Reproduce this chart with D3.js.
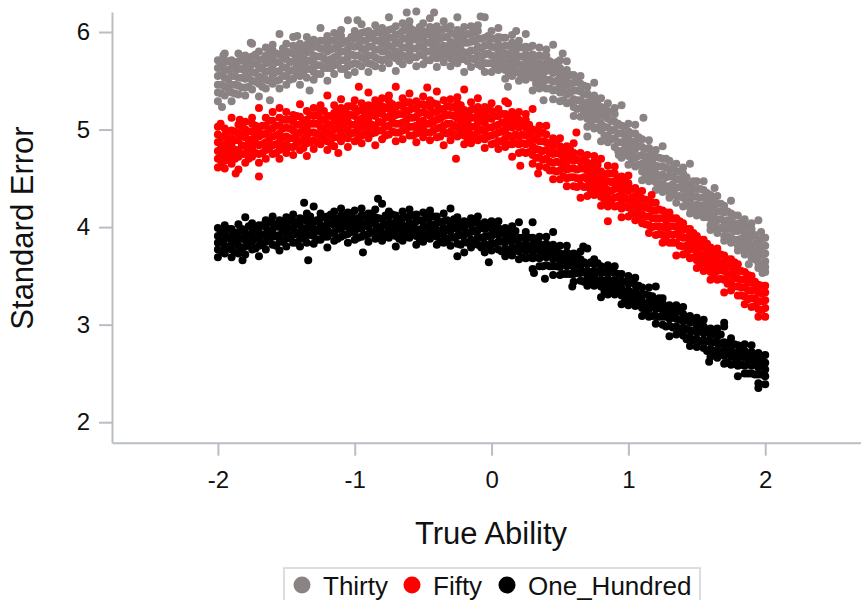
<!DOCTYPE html>
<html>
<head>
<meta charset="utf-8">
<script src="https://cdn.jsdelivr.net/npm/d3@7/dist/d3.min.js"></script>
<style>
  html, body { margin: 0; padding: 0; background: #fff; }
  svg { display: block; font-family: "Liberation Sans", Arial, sans-serif; }
</style>
</head>
<body>
<svg id="chart" width="861" height="600"></svg>
<script>
// Standard error by true ability for three test lengths.
// Each row: [true ability, standard error, standard error, ...]
const thirty = [
[-2.00,5.29,5.38,5.46,5.55,5.63,5.71],[-1.95,5.35,5.44,5.53,5.61,5.69,5.78],[-1.90,5.29,5.38,5.46,5.55,5.63,5.71],
[-1.85,5.36,5.45,5.53,5.62,5.70,5.78],[-1.80,5.35,5.43,5.52,5.60,5.69,5.76],[-1.75,5.41,5.50,5.59,5.67,5.75,5.88],
[-1.70,5.34,5.47,5.54,5.64,5.71,5.80],[-1.65,5.42,5.51,5.59,5.68,5.76,5.84],[-1.60,5.47,5.56,5.65,5.73,5.81,5.87],
[-1.55,5.42,5.51,5.60,5.69,5.77,5.98],[-1.50,5.46,5.55,5.63,5.72,5.80,5.88],[-1.45,5.52,5.61,5.70,5.78,5.86,5.95],
[-1.40,5.46,5.55,5.63,5.72,5.80,5.88],[-1.35,5.53,5.62,5.70,5.79,5.87,5.95],[-1.30,5.51,5.59,5.68,5.76,5.85,5.92],
[-1.25,5.57,5.66,5.75,5.83,5.91,6.04],[-1.20,5.50,5.63,5.70,5.80,5.87,5.96],[-1.15,5.57,5.66,5.74,5.83,5.91,5.99],
[-1.10,5.62,5.71,5.80,5.88,5.96,6.02],[-1.05,5.56,5.65,5.74,5.83,5.91,6.12],[-1.00,5.59,5.68,5.76,5.85,5.93,6.01],
[-0.95,5.65,5.74,5.83,5.91,5.99,6.08],[-0.90,5.59,5.68,5.76,5.85,5.93,6.01],[-0.85,5.65,5.74,5.82,5.91,5.99,6.07],
[-0.80,5.63,5.71,5.80,5.88,5.97,6.04],[-0.75,5.68,5.77,5.86,5.94,6.02,6.15],[-0.70,5.60,5.73,5.80,5.90,5.97,6.06],
[-0.65,5.67,5.76,5.84,5.93,6.01,6.09],[-0.60,5.71,5.80,5.89,5.97,6.05,6.11],[-0.55,5.65,5.74,5.83,5.92,6.00,6.21],
[-0.50,5.67,5.76,5.84,5.93,6.01,6.09],[-0.45,5.71,5.80,5.89,5.97,6.05,6.14],[-0.40,5.64,5.73,5.81,5.90,5.98,6.06],
[-0.35,5.69,5.78,5.86,5.95,6.03,6.11],[-0.30,5.65,5.73,5.82,5.90,5.99,6.06],[-0.25,5.68,5.77,5.86,5.94,6.02,6.15],
[-0.20,5.59,5.72,5.79,5.89,5.96,6.05],[-0.15,5.64,5.73,5.81,5.90,5.98,6.06],[-0.10,5.67,5.76,5.85,5.93,6.01,6.07],
[-0.05,5.59,5.68,5.77,5.86,5.94,6.15],[0.00,5.59,5.68,5.76,5.85,5.93,6.01],[0.05,5.61,5.70,5.79,5.87,5.95,6.04],
[0.10,5.52,5.61,5.69,5.78,5.86,5.94],[0.15,5.55,5.64,5.72,5.81,5.89,5.97],[0.20,5.50,5.58,5.67,5.75,5.84,5.91],
[0.25,5.51,5.60,5.69,5.77,5.85,5.98],[0.30,5.40,5.53,5.60,5.70,5.77,5.86],[0.35,5.42,5.51,5.59,5.68,5.76,5.84],
[0.40,5.42,5.51,5.60,5.68,5.76,5.82],[0.45,5.31,5.40,5.49,5.58,5.66,5.87],[0.50,5.29,5.38,5.46,5.55,5.63,5.71],
[0.55,5.27,5.36,5.45,5.53,5.61,5.70],[0.60,5.14,5.23,5.31,5.40,5.48,5.56],[0.65,5.13,5.22,5.30,5.39,5.47,5.55],
[0.70,5.03,5.11,5.20,5.28,5.37,5.44],[0.75,5.01,5.10,5.19,5.27,5.35,5.48],[0.80,4.88,4.99,5.06,5.16,5.23,5.32],
[0.85,4.87,4.94,5.02,5.11,5.19,5.27],[0.90,4.82,4.91,5.00,5.08,5.16,5.22],[0.95,4.71,4.78,4.87,4.96,5.04,5.25],
[1.00,4.64,4.73,4.81,4.90,4.98,5.06],[1.05,4.62,4.71,4.80,4.88,4.96,5.05],[1.10,4.48,4.57,4.65,4.74,4.82,4.90],
[1.15,4.47,4.56,4.64,4.73,4.81,4.89],[1.20,4.38,4.46,4.55,4.63,4.72,4.79],[1.25,4.36,4.45,4.54,4.62,4.70,4.83],
[1.30,4.30,4.36,4.42,4.52,4.59,4.68],[1.35,4.25,4.32,4.40,4.49,4.57,4.65],[1.40,4.21,4.30,4.39,4.47,4.55,4.61],
[1.45,4.14,4.20,4.27,4.36,4.44,4.65],[1.50,4.12,4.17,4.23,4.31,4.39,4.47],[1.55,4.10,4.15,4.22,4.30,4.38,4.47],
[1.60,3.97,4.02,4.09,4.17,4.25,4.33],[1.65,3.94,3.99,4.07,4.16,4.24,4.32],[1.70,3.86,3.91,3.98,4.06,4.15,4.22],
[1.75,3.84,3.89,3.98,4.06,4.14,4.27],[1.80,3.76,3.81,3.87,3.96,4.03,4.12],[1.85,3.72,3.77,3.83,3.92,4.00,4.08],
[1.90,3.68,3.74,3.82,3.90,3.98,4.04],[1.95,3.58,3.63,3.70,3.78,3.86,4.07],[2.00,3.54,3.59,3.65,3.73,3.81,3.89],
[-1.975,5.37,5.46,5.56,5.65],[-1.925,5.42,5.51,5.61,5.70],[-1.875,5.37,5.46,5.55,5.65],[-1.825,5.43,5.53,5.62,5.71],
[-1.775,5.44,5.53,5.63,5.72],[-1.725,5.49,5.58,5.68,5.77],[-1.675,5.44,5.53,5.62,5.72],[-1.625,5.50,5.60,5.69,5.78],
[-1.575,5.50,5.59,5.69,5.78],[-1.525,5.55,5.64,5.74,5.83],[-1.475,5.51,5.60,5.69,5.79],[-1.425,5.57,5.67,5.76,5.85],
[-1.375,5.57,5.66,5.76,5.85],[-1.325,5.62,5.71,5.81,5.90],[-1.275,5.57,5.66,5.75,5.85],[-1.225,5.63,5.73,5.82,5.91],
[-1.175,5.63,5.72,5.82,5.91],[-1.125,5.67,5.76,5.86,5.95],[-1.075,5.62,5.71,5.80,5.90],[-1.025,5.67,5.77,5.86,5.95],
[-0.975,5.67,5.76,5.86,5.95],[-0.925,5.72,5.81,5.91,6.00],[-0.875,5.67,5.76,5.85,5.95],[-0.825,5.72,5.82,5.91,6.00],
[-0.775,5.72,5.81,5.91,6.00],[-0.725,5.75,5.84,5.94,6.03],[-0.675,5.70,5.79,5.88,5.98],[-0.625,5.74,5.84,5.93,6.02],
[-0.575,5.74,5.83,5.93,6.02],[-0.525,5.77,5.86,5.96,6.05],[-0.475,5.71,5.80,5.89,5.99],[-0.425,5.75,5.85,5.94,6.03],
[-0.375,5.74,5.83,5.93,6.02],[-0.325,5.76,5.85,5.95,6.04],[-0.275,5.70,5.79,5.88,5.98],[-0.225,5.72,5.82,5.91,6.00],
[-0.175,5.70,5.79,5.89,5.98],[-0.125,5.72,5.81,5.91,6.00],[-0.075,5.65,5.74,5.83,5.93],[-0.025,5.68,5.78,5.87,5.96],
[0.025,5.65,5.74,5.84,5.93],[0.075,5.66,5.75,5.85,5.94],[0.125,5.58,5.67,5.76,5.86],[0.175,5.60,5.70,5.79,5.88],
[0.225,5.56,5.65,5.75,5.84],[0.275,5.56,5.65,5.75,5.84],[0.325,5.47,5.56,5.65,5.75],[0.375,5.47,5.57,5.66,5.75],
[0.425,5.42,5.51,5.61,5.70],[0.475,5.41,5.50,5.60,5.69],[0.525,5.30,5.39,5.48,5.58],[0.575,5.28,5.38,5.47,5.56],
[0.625,5.21,5.30,5.40,5.49],[0.675,5.17,5.26,5.36,5.45],[0.725,5.05,5.14,5.23,5.33],[0.775,5.02,5.12,5.21,5.30],
[0.825,4.94,5.03,5.13,5.22],[0.875,4.90,4.99,5.09,5.18],[0.925,4.78,4.87,4.96,5.06],[0.975,4.75,4.85,4.94,5.03],
[1.025,4.68,4.77,4.87,4.96],[1.075,4.64,4.73,4.83,4.92],[1.125,4.52,4.61,4.70,4.80],[1.175,4.50,4.60,4.69,4.78],
[1.225,4.43,4.52,4.62,4.71],[1.275,4.42,4.51,4.61,4.70],[1.325,4.36,4.44,4.52,4.61],[1.375,4.32,4.41,4.49,4.57],
[1.425,4.26,4.34,4.43,4.51],[1.475,4.22,4.31,4.39,4.47],[1.525,4.14,4.22,4.30,4.39],[1.575,4.10,4.19,4.27,4.35],
[1.625,4.03,4.11,4.20,4.28],[1.675,3.99,4.08,4.16,4.24],[1.725,3.91,3.99,4.07,4.16],[1.775,3.87,3.96,4.04,4.12],
[1.825,3.80,3.88,3.97,4.05],[1.875,3.76,3.85,3.93,4.01],[1.925,3.67,3.75,3.83,3.92],[1.975,3.63,3.72,3.80,3.88],
// scattered points off the main band
[-1.97,5.23],[-1.96,5.76],[-1.87,5.62],[-1.76,5.89],[-1.62,5.30],[-1.42,5.96],[-1.33,5.40],[-0.98,6.12],
[-0.62,6.20],[-0.42,6.20],[-0.08,6.16],[0.18,6.01],[0.12,5.44],[0.38,5.30],[0.52,5.78],[0.70,4.93],
[1.11,5.12],[0.93,4.74],[1.63,4.40],[1.88,3.62],[1.98,3.53],[1.97,3.95]
];

const fifty = [
[-2.00,4.61,4.70,4.78,4.87,4.95,5.03],[-1.95,4.60,4.68,4.77,4.85,4.94,5.01],[-1.90,4.65,4.74,4.83,4.91,4.99,5.12],
[-1.85,4.59,4.72,4.79,4.89,4.96,5.05],[-1.80,4.66,4.75,4.83,4.92,5.00,5.08],[-1.75,4.72,4.81,4.90,4.98,5.06,5.12],
[-1.70,4.66,4.75,4.84,4.93,5.01,5.22],[-1.65,4.70,4.79,4.87,4.96,5.04,5.12],[-1.60,4.75,4.84,4.93,5.01,5.09,5.18],
[-1.55,4.70,4.79,4.87,4.96,5.04,5.12],[-1.50,4.76,4.85,4.93,5.02,5.10,5.18],[-1.45,4.74,4.82,4.91,4.99,5.08,5.15],
[-1.40,4.79,4.88,4.97,5.05,5.13,5.26],[-1.35,4.73,4.86,4.93,5.03,5.10,5.19],[-1.30,4.80,4.89,4.97,5.06,5.14,5.22],
[-1.25,4.85,4.94,5.03,5.11,5.19,5.25],[-1.20,4.79,4.88,4.97,5.06,5.14,5.35],[-1.15,4.83,4.92,5.00,5.09,5.17,5.25],
[-1.10,4.88,4.97,5.06,5.14,5.22,5.31],[-1.05,4.82,4.91,4.99,5.08,5.16,5.24],[-1.00,4.88,4.97,5.05,5.14,5.22,5.30],
[-0.95,4.86,4.94,5.03,5.11,5.20,5.27],[-0.90,4.91,5.00,5.09,5.17,5.25,5.38],[-0.85,4.84,4.97,5.04,5.14,5.21,5.30],
[-0.80,4.90,4.99,5.07,5.16,5.24,5.32],[-0.75,4.95,5.04,5.13,5.21,5.29,5.35],[-0.70,4.88,4.97,5.06,5.15,5.23,5.44],
[-0.65,4.90,4.99,5.07,5.16,5.24,5.32],[-0.60,4.94,5.03,5.12,5.20,5.28,5.37],[-0.55,4.87,4.96,5.04,5.13,5.21,5.29],
[-0.50,4.92,5.01,5.09,5.18,5.26,5.34],[-0.45,4.89,4.97,5.06,5.14,5.23,5.30],[-0.40,4.92,5.01,5.10,5.18,5.26,5.39],
[-0.35,4.84,4.97,5.04,5.14,5.21,5.30],[-0.30,4.89,4.98,5.06,5.15,5.23,5.31],[-0.25,4.93,5.02,5.11,5.19,5.27,5.33],
[-0.20,4.85,4.94,5.03,5.12,5.20,5.41],[-0.15,4.86,4.95,5.03,5.12,5.20,5.28],[-0.10,4.89,4.98,5.07,5.15,5.23,5.32],
[-0.05,4.81,4.90,4.98,5.07,5.15,5.23],[0.00,4.85,4.94,5.02,5.11,5.19,5.27],[0.05,4.80,4.88,4.97,5.05,5.14,5.21],
[0.10,4.82,4.91,5.00,5.08,5.16,5.29],[0.15,4.72,4.85,4.92,5.02,5.09,5.18],[0.20,4.76,4.85,4.93,5.02,5.10,5.18],
[0.25,4.76,4.85,4.94,5.02,5.10,5.16],[0.30,4.65,4.74,4.83,4.92,5.00,5.21],[0.35,4.62,4.71,4.79,4.88,4.96,5.04],
[0.40,4.61,4.70,4.79,4.87,4.95,5.04],[0.45,4.49,4.58,4.66,4.75,4.83,4.91],[0.50,4.49,4.58,4.66,4.75,4.83,4.91],
[0.55,4.42,4.50,4.59,4.67,4.76,4.83],[0.60,4.42,4.51,4.60,4.68,4.76,4.86],[0.65,4.30,4.43,4.50,4.60,4.67,4.76],
[0.70,4.32,4.41,4.49,4.58,4.66,4.74],[0.75,4.33,4.42,4.51,4.59,4.67,4.73],[0.80,4.22,4.31,4.40,4.49,4.57,4.70],
[0.85,4.21,4.30,4.38,4.47,4.55,4.63],[0.90,4.21,4.30,4.39,4.47,4.55,4.62],[0.95,4.10,4.19,4.27,4.36,4.44,4.52],
[1.00,4.11,4.20,4.28,4.37,4.45,4.53],[1.05,4.07,4.15,4.24,4.32,4.40],[1.10,4.04,4.13,4.21,4.29,4.37],
[1.15,3.94,4.02,4.11,4.19,4.27],[1.20,3.92,4.01,4.09,4.17,4.25],[1.25,3.84,3.92,4.00,4.09,4.17],
[1.30,3.84,3.93,4.01,4.09,4.15],[1.35,3.71,3.84,3.93,4.01,4.09],[1.40,3.72,3.80,3.89,3.97,4.04],
[1.45,3.68,3.77,3.85,3.93,3.98],[1.50,3.58,3.66,3.75,3.83,3.91],[1.55,3.55,3.64,3.72,3.80,3.87],
[1.60,3.46,3.54,3.62,3.71,3.79],[1.65,3.46,3.55,3.63,3.71,3.78],[1.70,3.33,3.46,3.55,3.63,3.71],
[1.75,3.35,3.43,3.52,3.60,3.67],[1.80,3.30,3.39,3.47,3.55,3.62],[1.85,3.21,3.29,3.38,3.46,3.54],
[1.90,3.18,3.27,3.35,3.43,3.50],[1.95,3.08,3.16,3.24,3.33,3.41],[2.00,3.08,3.17,3.25,3.33,3.40],
[-1.975,4.64,4.73,4.82,4.92],[-1.925,4.70,4.80,4.89,4.98],[-1.875,4.70,4.79,4.89,4.98],[-1.825,4.75,4.84,4.94,5.03],
[-1.775,4.70,4.79,4.88,4.98],[-1.725,4.76,4.86,4.95,5.04],[-1.675,4.76,4.85,4.95,5.04],[-1.625,4.81,4.90,5.00,5.09],
[-1.575,4.76,4.85,4.94,5.04],[-1.525,4.82,4.92,5.01,5.10],[-1.475,4.82,4.91,5.01,5.10],[-1.425,4.86,4.95,5.05,5.14],
[-1.375,4.81,4.90,4.99,5.09],[-1.325,4.87,4.97,5.06,5.15],[-1.275,4.87,4.96,5.06,5.15],[-1.225,4.91,5.00,5.10,5.19],
[-1.175,4.86,4.95,5.04,5.14],[-1.125,4.92,5.02,5.11,5.20],[-1.075,4.92,5.01,5.11,5.20],[-1.025,4.96,5.05,5.15,5.24],
[-0.975,4.91,5.00,5.09,5.19],[-0.925,4.96,5.06,5.15,5.24],[-0.875,4.96,5.05,5.15,5.24],[-0.825,4.99,5.08,5.18,5.27],
[-0.775,4.94,5.03,5.12,5.22],[-0.725,4.98,5.08,5.17,5.26],[-0.675,4.97,5.06,5.16,5.25],[-0.625,5.00,5.09,5.19,5.28],
[-0.575,4.94,5.03,5.12,5.22],[-0.525,4.98,5.08,5.17,5.26],[-0.475,4.97,5.06,5.16,5.25],[-0.425,4.99,5.08,5.18,5.27],
[-0.375,4.93,5.02,5.11,5.21],[-0.325,4.96,5.06,5.15,5.24],[-0.275,4.95,5.04,5.14,5.23],[-0.225,4.97,5.06,5.16,5.25],
[-0.175,4.90,4.99,5.08,5.18],[-0.125,4.93,5.03,5.12,5.21],[-0.075,4.91,5.00,5.10,5.19],[-0.025,4.93,5.02,5.12,5.21],
[0.025,4.86,4.95,5.04,5.14],[0.075,4.88,4.98,5.07,5.16],[0.125,4.85,4.94,5.04,5.13],[0.175,4.86,4.95,5.05,5.14],
[0.225,4.77,4.86,4.95,5.05],[0.275,4.77,4.87,4.96,5.05],[0.325,4.71,4.80,4.90,4.99],[0.375,4.69,4.78,4.88,4.97],
[0.425,4.58,4.67,4.76,4.86],[0.475,4.57,4.67,4.76,4.85],[0.525,4.52,4.61,4.71,4.80],[0.575,4.51,4.60,4.70,4.79],
[0.625,4.41,4.50,4.59,4.69],[0.675,4.41,4.51,4.60,4.69],[0.725,4.36,4.45,4.55,4.64],[0.775,4.36,4.45,4.55,4.64],
[0.825,4.26,4.35,4.44,4.54],[0.875,4.27,4.37,4.46,4.55],[0.925,4.22,4.31,4.41,4.50],[0.975,4.21,4.30,4.40,4.49],
[1.025,4.14,4.22,4.30,4.39],[1.075,4.10,4.19,4.27,4.35],[1.125,4.03,4.11,4.20,4.28],[1.175,4.00,4.09,4.17,4.25],
[1.225,3.93,4.01,4.09,4.18],[1.275,3.90,3.99,4.07,4.15],[1.325,3.84,3.92,4.01,4.09],[1.375,3.81,3.90,3.98,4.06],
[1.425,3.73,3.81,3.89,3.98],[1.475,3.69,3.78,3.86,3.94],[1.525,3.62,3.70,3.79,3.87],[1.575,3.58,3.67,3.75,3.83],
[1.625,3.50,3.58,3.66,3.75],[1.675,3.47,3.56,3.64,3.72],[1.725,3.42,3.50,3.59,3.67],[1.775,3.39,3.48,3.56,3.64],
[1.825,3.30,3.38,3.46,3.55],[1.875,3.26,3.35,3.43,3.51],[1.925,3.19,3.27,3.36,3.44],[1.975,3.15,3.24,3.32,3.40],
// scattered points off the main band
[-1.87,4.55],[-1.84,5.10],[-1.70,4.52],[-1.98,5.06],[-1.55,5.22],[-1.12,4.76],[-0.97,5.44],[-0.47,5.43],
[-0.26,4.70],[0.12,5.27],[0.21,4.63],[0.34,4.55],[0.85,4.06],[1.17,4.33],[0.62,4.97]
];

const oneHundred = [
[-2.00,3.69,3.77,3.84,3.91,3.99],[-1.95,3.73,3.81,3.88,3.95,4.02],[-1.90,3.69,3.77,3.84,3.91,3.98],
[-1.85,3.73,3.81,3.88,3.95,4.03],[-1.80,3.72,3.80,3.87,3.94,4.10],[-1.75,3.77,3.85,3.92,3.99,4.04],
[-1.70,3.70,3.81,3.88,3.95,4.02],[-1.65,3.77,3.85,3.93,4.00,4.07],[-1.60,3.82,3.90,3.97,4.04,4.11],
[-1.55,3.76,3.85,3.92,4.00,4.07],[-1.50,3.80,3.88,3.95,4.02,4.10],[-1.45,3.84,3.92,3.99,4.06,4.13],
[-1.40,3.80,3.88,3.95,4.02,4.09],[-1.35,3.84,3.92,3.99,4.06,4.14],[-1.30,3.83,3.91,3.98,4.05,4.21],
[-1.25,3.87,3.95,4.02,4.09,4.14],[-1.20,3.79,3.90,3.97,4.04,4.11],[-1.15,3.86,3.94,4.02,4.09,4.16],
[-1.10,3.90,3.98,4.05,4.12,4.19],[-1.05,3.84,3.93,4.00,4.08,4.15],[-1.00,3.87,3.95,4.02,4.09,4.17],
[-0.95,3.90,3.98,4.05,4.12,4.19],[-0.90,3.85,3.93,4.00,4.07,4.14],[-0.85,3.88,3.96,4.03,4.10,4.18],
[-0.80,3.86,3.94,4.01,4.08,4.24],[-0.75,3.89,3.97,4.04,4.11,4.16],[-0.70,3.80,3.91,3.98,4.05,4.12],
[-0.65,3.86,3.94,4.02,4.09,4.16],[-0.60,3.89,3.97,4.04,4.11,4.18],[-0.55,3.82,3.91,3.98,4.06,4.13],
[-0.50,3.85,3.93,4.00,4.07,4.15],[-0.45,3.88,3.96,4.03,4.10,4.17],[-0.40,3.82,3.90,3.97,4.04,4.11],
[-0.35,3.84,3.92,3.99,4.06,4.14],[-0.30,3.81,3.89,3.96,4.03,4.19],[-0.25,3.83,3.91,3.98,4.05,4.10],
[-0.20,3.74,3.85,3.92,3.99,4.06],[-0.15,3.79,3.87,3.95,4.02,4.09],[-0.10,3.82,3.90,3.97,4.04,4.11],
[-0.05,3.74,3.83,3.90,3.98,4.05],[0.00,3.76,3.84,3.91,3.98,4.06],[0.05,3.77,3.85,3.92,3.99,4.06],
[0.10,3.70,3.78,3.85,3.92,3.99],[0.15,3.71,3.79,3.86,3.93,4.01],[0.20,3.67,3.75,3.82,3.89,4.05],
[0.25,3.68,3.76,3.83,3.90,3.95],[0.30,3.57,3.68,3.75,3.82,3.89],[0.35,3.60,3.68,3.76,3.83,3.90],
[0.40,3.61,3.69,3.76,3.83,3.90],[0.45,3.51,3.60,3.67,3.75,3.82],[0.50,3.51,3.59,3.66,3.73,3.81],
[0.55,3.52,3.60,3.67,3.74,3.81],[0.60,3.44,3.52,3.59,3.66,3.73],[0.65,3.45,3.53,3.60,3.67,3.75],
[0.70,3.40,3.48,3.55,3.62,3.78],[0.75,3.40,3.48,3.55,3.62,3.67],[0.80,3.28,3.39,3.46,3.53,3.60],
[0.85,3.31,3.39,3.47,3.54,3.61],[0.90,3.31,3.39,3.46,3.53,3.60],[0.95,3.21,3.30,3.37,3.45,3.52],
[1.00,3.20,3.28,3.35,3.42,3.50],[1.05,3.19,3.27,3.34,3.41,3.48],[1.10,3.09,3.17,3.24,3.31,3.38],
[1.15,3.08,3.16,3.23,3.30,3.38],[1.20,3.01,3.09,3.16,3.23,3.39],[1.25,3.00,3.08,3.15,3.22,3.27],
[1.30,2.88,2.99,3.06,3.13,3.20],[1.35,2.90,2.98,3.06,3.13,3.20],[1.40,2.89,2.97,3.04,3.11,3.18],
[1.45,2.78,2.87,2.94,3.02,3.09],[1.50,2.77,2.85,2.92,2.99,3.07],[1.55,2.76,2.84,2.91,2.98,3.05],
[1.60,2.67,2.75,2.82,2.89,2.96],[1.65,2.66,2.74,2.81,2.88,2.96],[1.70,2.60,2.68,2.75,2.82,2.98],
[1.75,2.59,2.67,2.74,2.81,2.86],[1.80,2.47,2.58,2.65,2.72,2.79],[1.85,2.50,2.58,2.66,2.73,2.80],
[1.90,2.50,2.58,2.65,2.72,2.79],[1.95,2.40,2.49,2.56,2.64,2.71],[2.00,2.39,2.47,2.54,2.61,2.69],
[-1.975,3.75,3.85,3.95],[-1.925,3.79,3.89,3.98],[-1.875,3.74,3.84,3.94],[-1.825,3.78,3.88,3.98],
[-1.775,3.82,3.92,4.01],[-1.725,3.78,3.88,3.98],[-1.675,3.82,3.92,4.02],[-1.625,3.86,3.96,4.05],
[-1.575,3.81,3.91,4.01],[-1.525,3.85,3.95,4.05],[-1.475,3.89,3.99,4.08],[-1.425,3.84,3.94,4.04],
[-1.375,3.88,3.98,4.08],[-1.325,3.92,4.02,4.11],[-1.275,3.87,3.97,4.07],[-1.225,3.90,4.00,4.10],
[-1.175,3.94,4.04,4.13],[-1.125,3.88,3.98,4.08],[-1.075,3.92,4.02,4.12],[-1.025,3.95,4.05,4.14],
[-0.975,3.89,3.99,4.09],[-0.925,3.92,4.02,4.12],[-0.875,3.95,4.05,4.14],[-0.825,3.89,3.99,4.09],
[-0.775,3.92,4.02,4.12],[-0.725,3.94,4.04,4.13],[-0.675,3.88,3.98,4.08],[-0.625,3.90,4.00,4.10],
[-0.575,3.93,4.03,4.12],[-0.525,3.87,3.97,4.07],[-0.475,3.90,4.00,4.10],[-0.425,3.92,4.02,4.11],
[-0.375,3.85,3.95,4.05],[-0.325,3.87,3.97,4.07],[-0.275,3.89,3.99,4.08],[-0.225,3.82,3.92,4.02],
[-0.175,3.84,3.94,4.04],[-0.125,3.86,3.96,4.05],[-0.075,3.79,3.89,3.99],[-0.025,3.81,3.91,4.01],
[0.025,3.83,3.93,4.02],[0.075,3.75,3.85,3.95],[0.125,3.76,3.86,3.96],[0.175,3.77,3.87,3.96],
[0.225,3.69,3.79,3.89],[0.275,3.69,3.79,3.89],[0.325,3.69,3.79,3.88],[0.375,3.60,3.70,3.80],
[0.425,3.60,3.70,3.80],[0.475,3.60,3.70,3.79],[0.525,3.52,3.62,3.72],[0.575,3.52,3.62,3.72],
[0.625,3.53,3.63,3.72],[0.675,3.44,3.54,3.64],[0.725,3.44,3.54,3.64],[0.775,3.44,3.54,3.63],
[0.825,3.34,3.44,3.54],[0.875,3.34,3.44,3.54],[0.925,3.33,3.43,3.52],[0.975,3.24,3.34,3.44],
[1.025,3.23,3.33,3.43],[1.075,3.21,3.31,3.40],[1.125,3.11,3.21,3.31],[1.175,3.09,3.19,3.29],
[1.225,3.08,3.18,3.27],[1.275,2.98,3.08,3.18],[1.325,2.97,3.07,3.17],[1.375,2.95,3.05,3.14],
[1.425,2.85,2.95,3.05],[1.475,2.84,2.94,3.04],[1.525,2.83,2.93,3.02],[1.575,2.73,2.83,2.93],
[1.625,2.72,2.82,2.92],[1.675,2.71,2.81,2.90],[1.725,2.61,2.71,2.81],[1.775,2.60,2.70,2.80],
[1.825,2.59,2.69,2.78],[1.875,2.50,2.60,2.70],[1.925,2.49,2.59,2.69],[1.975,2.49,2.59,2.68],
// scattered points off the main band
[-1.82,3.66],[-1.37,4.25],[-1.34,3.66],[-0.94,3.74],[-0.83,4.29],[-0.25,3.70],[-0.02,3.64],[0.30,4.05],
[0.31,3.53],[0.39,3.47],[0.45,3.95],[0.59,3.39],[0.67,3.80],[1.59,2.62],[1.64,2.95],[1.70,3.02],[1.95,2.35]
];

const seriesNames = ["Thirty", "Fifty", "One_Hundred"];
const seriesColors = ["#8b8383", "#ff0000", "#000000"];
const xTicks = [-2, -1, 0, 1, 2];
const yTicks = [2, 3, 4, 5, 6];
const xTitle = "True Ability";
const yTitle = "Standard Error";

const seriesRows = [thirty, fifty, oneHundred];

// flatten rows into individual points
const series = seriesRows.map((rows, i) => ({
  name: seriesNames[i],
  color: seriesColors[i],
  points: rows.flatMap(r => r.slice(1).map(v => ({ x: r[0], y: v })))
}));

const svg = d3.select("#chart");
const axisColor = "#b9bec4";
const font = '"Liberation Sans", Arial, sans-serif';

const x = d3.scaleLinear().domain([-2.774, 2.70]).range([112, 861]);
const y = d3.scaleLinear().domain([1.79, 6.205]).range([442.7, 12]);

// points
series.forEach(s => {
  svg.append("g")
    .selectAll("circle")
    .data(s.points)
    .join("circle")
    .attr("cx", d => x(d.x))
    .attr("cy", d => y(d.y))
    .attr("r", 4)
    .attr("fill", s.color);
});

// axes
const yAxis = svg.append("g")
  .attr("transform", `translate(${x.range()[0]},0)`)
  .call(d3.axisLeft(y).tickValues(yTicks).tickSize(13).tickSizeOuter(0)
    .tickPadding(9).tickFormat(d => String(d)));

const xAxis = svg.append("g")
  .attr("transform", `translate(0,${y.range()[0]})`)
  .call(d3.axisBottom(x).tickValues(xTicks).tickSize(13).tickSizeOuter(0)
    .tickPadding(15).tickFormat(d => String(d)));

[xAxis, yAxis].forEach(a => {
  a.select(".domain").attr("stroke", axisColor).attr("stroke-width", 2);
  a.selectAll(".tick line").attr("stroke", axisColor).attr("stroke-width", 2);
  a.selectAll(".tick text")
    .attr("fill", "#111")
    .style("font-family", font)
    .style("font-size", "24px");
});

// axis titles
svg.append("text")
  .attr("x", 491)
  .attr("y", 544)
  .attr("text-anchor", "middle")
  .style("font-size", "31px")
  .attr("fill", "#111")
  .text(xTitle);

svg.append("text")
  .attr("transform", "translate(33,228) rotate(-90)")
  .attr("text-anchor", "middle")
  .style("font-size", "31px")
  .attr("fill", "#111")
  .text(yTitle);

// legend
const legend = svg.append("g");
legend.append("rect")
  .attr("x", 284).attr("y", 568)
  .attr("width", 416).attr("height", 40)
  .attr("fill", "#fff")
  .attr("stroke", "#cfd2d6")
  .attr("stroke-width", 1.5);

const legendX = [302, 412, 507];
series.forEach((s, i) => {
  legend.append("circle")
    .attr("cx", legendX[i]).attr("cy", 585)
    .attr("r", 8.5)
    .attr("fill", s.color);
  legend.append("text")
    .attr("x", legendX[i] + 21)
    .attr("y", 595)
    .style("font-size", "26px")
    .attr("fill", "#111")
    .text(s.name);
});
</script>
</body>
</html>
